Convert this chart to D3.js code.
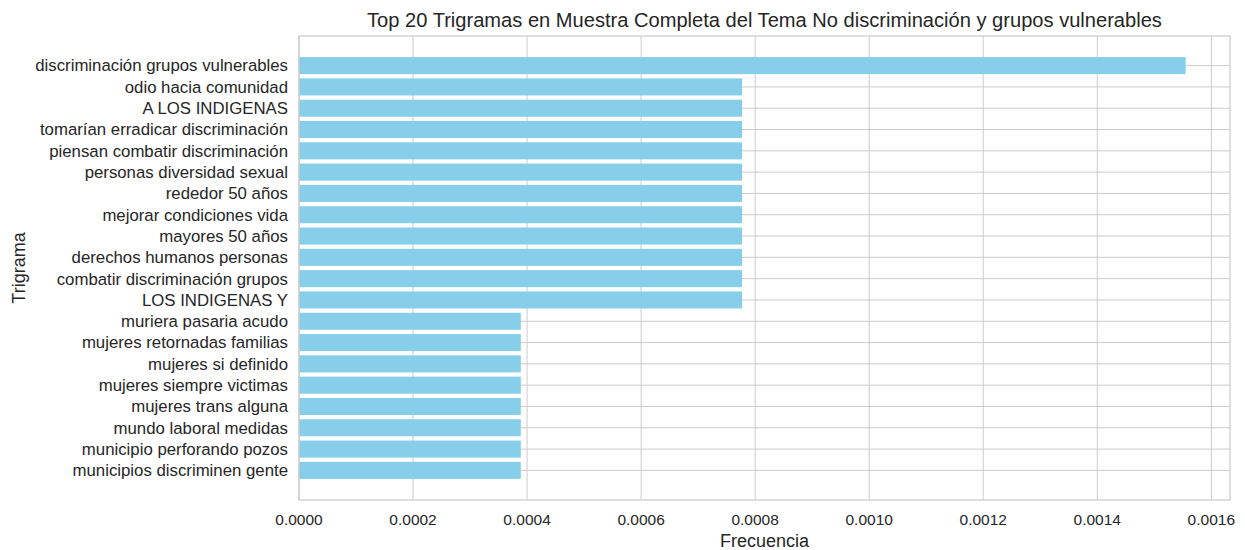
<!DOCTYPE html>
<html>
<head>
<meta charset="utf-8">
<script src="https://cdn.jsdelivr.net/npm/d3@7"></script>
<style>
  body { margin: 0; background: #fff; }
  svg text { font-family: "Liberation Sans", Arial, sans-serif; fill: #262626; }
</style>
</head>
<body>
<div id="chart"></div>
<script>
// trigram labels, top to bottom
var trigramas = [
  "discriminación grupos vulnerables",
  "odio hacia comunidad",
  "A LOS INDIGENAS",
  "tomarían erradicar discriminación",
  "piensan combatir discriminación",
  "personas diversidad sexual",
  "rededor 50 años",
  "mejorar condiciones vida",
  "mayores 50 años",
  "derechos humanos personas",
  "combatir discriminación grupos",
  "LOS INDIGENAS Y",
  "muriera pasaria acudo",
  "mujeres retornadas familias",
  "mujeres si definido",
  "mujeres siempre victimas",
  "mujeres trans alguna",
  "mundo laboral medidas",
  "municipio perforando pozos",
  "municipios discriminen gente"
];
var frecuencias = [
  0.001555,
  0.000777, 0.000777, 0.000777, 0.000777, 0.000777, 0.000777,
  0.000777, 0.000777, 0.000777, 0.000777, 0.000777,
  0.000389, 0.000389, 0.000389, 0.000389, 0.000389, 0.000389,
  0.000389, 0.000389
];
var xTicks = [0, 0.0002, 0.0004, 0.0006, 0.0008, 0.0010, 0.0012, 0.0014, 0.0016];

let width = 1245, height = 550;
let margin = {left: 299, right: 15, top: 36, bottom: 50};
let plotW = width - margin.left - margin.right;
let plotH = height - margin.top - margin.bottom;

let svg = d3.select('#chart').append('svg')
  .attr('width', width)
  .attr('height', height);

let g = svg.append('g').attr('transform', `translate(${margin.left},${margin.top})`);

// matplotlib-like limits with 5% margins
let xMax = d3.max(frecuencias) * 1.05;
let x = d3.scaleLinear().domain([0, xMax]).range([0, plotW]);
let n = trigramas.length;
let pad = (n - 1 + 0.8) * 0.05;
let y = d3.scaleLinear().domain([-0.4 - pad, n - 1 + 0.4 + pad]).range([0, plotH]);

// gridlines
g.selectAll('.vgrid').data(xTicks).enter().append('line')
  .attr('x1', d => x(d)).attr('x2', d => x(d))
  .attr('y1', 0).attr('y2', plotH)
  .attr('stroke', '#cccccc').attr('stroke-width', 1);
g.selectAll('.hgrid').data(trigramas).enter().append('line')
  .attr('x1', 0).attr('x2', plotW)
  .attr('y1', (d, i) => y(i)).attr('y2', (d, i) => y(i))
  .attr('stroke', '#cccccc').attr('stroke-width', 1);

// bars
g.selectAll('.bar').data(frecuencias).enter().append('rect')
  .attr('x', x(0))
  .attr('y', (d, i) => y(i - 0.4))
  .attr('width', d => x(d) - x(0))
  .attr('height', y(0.4) - y(-0.4))
  .attr('fill', '#87CEEB');

// frame
g.append('rect')
  .attr('x', 0).attr('y', 0).attr('width', plotW).attr('height', plotH)
  .attr('fill', 'none').attr('stroke', '#cccccc').attr('stroke-width', 1.25);

// x tick labels
g.selectAll('.xtick').data(xTicks).enter().append('text')
  .attr('x', d => x(d)).attr('y', plotH + 25)
  .attr('text-anchor', 'middle')
  .style('font-size', '15.5px')
  .text(d => d3.format('.4f')(d));

// y tick labels
g.selectAll('.ytick').data(trigramas).enter().append('text')
  .attr('x', -11).attr('y', (d, i) => y(i))
  .attr('dy', '0.35em')
  .attr('text-anchor', 'end')
  .style('font-size', '16.8px')
  .text(d => d);

// axis labels
svg.append('text')
  .attr('x', margin.left + plotW / 2).attr('y', 547)
  .attr('text-anchor', 'middle')
  .style('font-size', '18px')
  .text('Frecuencia');
svg.append('text')
  .attr('transform', `translate(25,${margin.top + plotH / 2}) rotate(-90)`)
  .attr('text-anchor', 'middle')
  .style('font-size', '18px')
  .text('Trigrama');

// title
svg.append('text')
  .attr('x', margin.left + plotW / 2).attr('y', 27)
  .attr('text-anchor', 'middle')
  .style('font-size', '20.1px')
  .text('Top 20 Trigramas en Muestra Completa del Tema No discriminación y grupos vulnerables');
</script>
</body>
</html>
